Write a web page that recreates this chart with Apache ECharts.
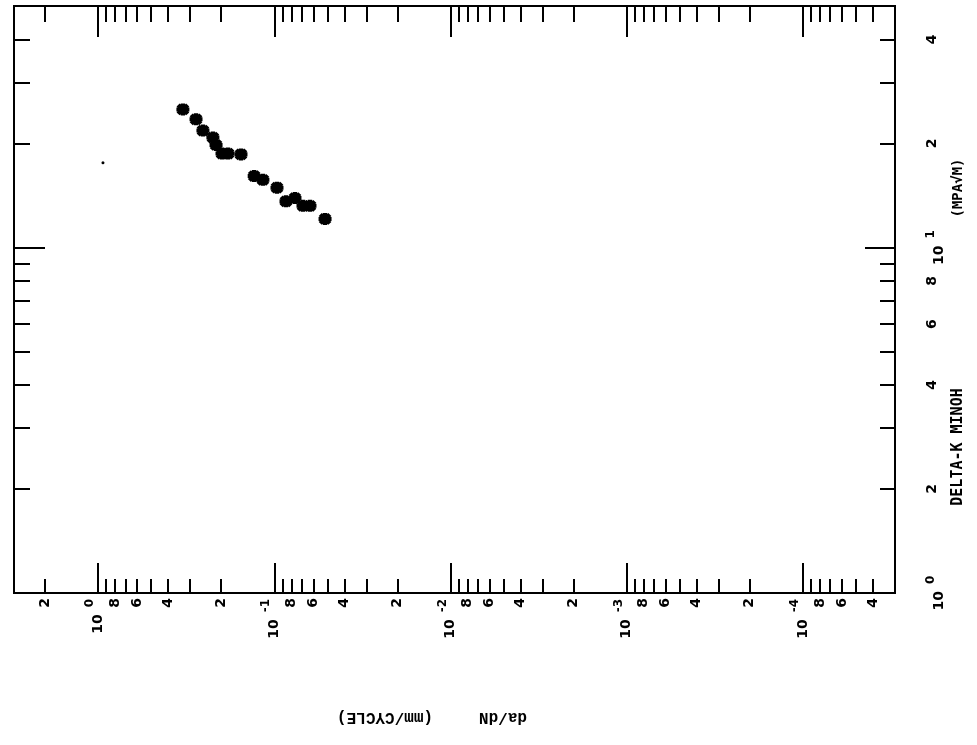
<!DOCTYPE html>
<html><head><meta charset="utf-8">
<script src="https://cdn.jsdelivr.net/npm/echarts@6/dist/echarts.min.js"></script>
<style>html,body{margin:0;padding:0;background:#fff}#c{width:977px;height:745px}</style>
</head><body><div id="c"></div>
<script>
// ---- data ----
const rateRange = [0.00003, 3];           // da/dN axis (mm/cycle), drawn reversed
const kRange = [1, 50];                   // Delta-K axis (MPa sqrt m)
const rateDecades = [1, 0.1, 0.01, 0.001, 0.0001];
const rateDecadeLabels = ['0', '-1', '-2', '-3', '-4'];
const rateMinorTicks = [2,
  0.9, 0.8, 0.7, 0.6, 0.5, 0.4, 0.3, 0.2,
  0.09, 0.08, 0.07, 0.06, 0.05, 0.04, 0.03, 0.02,
  0.009, 0.008, 0.007, 0.006, 0.005, 0.004, 0.003, 0.002,
  0.0009, 0.0008, 0.0007, 0.0006, 0.0005, 0.0004, 0.0003, 0.0002,
  0.00009, 0.00008, 0.00007, 0.00006, 0.00005, 0.00004];
const rateMinorLabelValues = [2, 0.8, 0.6, 0.4, 0.2, 0.08, 0.06, 0.04, 0.02,
  0.008, 0.006, 0.004, 0.002, 0.0008, 0.0006, 0.0004, 0.0002,
  0.00008, 0.00006, 0.00004];
const rateMinorLabels = ['2', '8', '6', '4', '2', '8', '6', '4', '2',
  '8', '6', '4', '2', '8', '6', '4', '2', '8', '6', '4'];
const kDecades = [1, 10];
const kDecadeLabels = ['0', '1'];
const kMinorTicks = [2, 3, 4, 5, 6, 7, 8, 9, 20, 30, 40];
const kMinorLabelValues = [2, 4, 6, 8, 20, 40];
const kMinorLabels = ['2', '4', '6', '8', '2', '4'];

const crackRate = [0.330, 0.278, 0.254, 0.223, 0.214, 0.198, 0.183, 0.1545,
  0.130, 0.116, 0.0965, 0.0858, 0.0763, 0.0687, 0.0627, 0.0515];
const deltaK = [25.1, 23.5, 21.8, 20.8, 19.8, 18.7, 18.7, 18.6,
  16.1, 15.7, 14.9, 13.6, 13.9, 13.2, 13.2, 12.1];
const strayRate = [0.938];
const strayK = [17.6];

// ---- build ----
const L = v => Math.log10(v);
const near = (a, b) => Math.abs(a - b) < 1e-6;
function lookup(vals, labels) {
  return function (val) {
    for (let i = 0; i < vals.length; i++) if (near(L(vals[i]), val)) return labels[i];
    return '';
  };
}
const INK = '#000';
const digitFont = { fontFamily: 'DejaVu Sans', fontWeight: 'bold', fontSize: 14, color: INK };
const richDec = {
  b: { fontFamily: 'DejaVu Sans', fontWeight: 'bold', fontSize: 14, color: INK },
  s: { fontFamily: 'DejaVu Sans', fontWeight: 'bold', fontSize: 12, color: INK, padding: [0, 0, 16, 7] }
};
const lineStyle = { color: INK, width: 2 };

function axis(kind, pos, tickVals, tickLen, labelVals, labelFn, labelOpts) {
  const range = kind === 'x' ? rateRange : kRange;
  const a = {
    type: 'value', position: pos, min: L(range[0]), max: L(range[1]),
    inverse: kind === 'x',
    splitLine: { show: false },
    axisLine: { show: true, onZero: false, lineStyle: lineStyle },
    axisTick: { show: true, inside: true, length: tickLen, lineStyle: lineStyle, customValues: tickVals.map(L) },
    axisLabel: { show: false }
  };
  if (labelVals) {
    a.axisLabel = Object.assign({ show: true, rotate: 90, customValues: labelVals.map(L), formatter: labelFn }, labelOpts);
  }
  return a;
}

const decRate = lookup(rateDecades, rateDecadeLabels);
const decK = lookup(kDecades, kDecadeLabels);
const decFmt = f => (v => '{b|10}{s|' + f(v) + '}');

const option = {
  animation: false,
  backgroundColor: '#fff',
  grid: { left: 14, right: 82, top: 6, bottom: 152 },
  xAxis: [
    axis('x', 'bottom', rateDecades, 30, rateDecades, decFmt(decRate), { margin: 6, rich: richDec }),
    axis('x', 'bottom', rateMinorTicks, 14, rateMinorLabelValues, lookup(rateMinorLabelValues, rateMinorLabels), Object.assign({ margin: 5 }, digitFont)),
    axis('x', 'top', rateDecades, 31),
    axis('x', 'top', rateMinorTicks, 16)
  ],
  yAxis: [
    axis('y', 'left', kDecades.filter(v => v > kRange[0]), 31),
    axis('y', 'left', kMinorTicks, 16),
    axis('y', 'right', kDecades.filter(v => v > kRange[0]), 30, kDecades, decFmt(decK), { margin: 30, rich: richDec }),
    axis('y', 'right', kMinorTicks, 15, kMinorLabelValues, lookup(kMinorLabelValues, kMinorLabels), Object.assign({ margin: 30 }, digitFont))
  ],
  series: [
    {
      type: 'scatter', xAxisIndex: 0, yAxisIndex: 0,
      symbol: 'path://M5 0L5 10M0 5L10 5M1.3 1.3L8.7 8.7M8.7 1.3L1.3 8.7',
      symbolSize: [13, 12],
      itemStyle: { color: 'rgba(0,0,0,0)', borderColor: INK, borderWidth: 4.2, opacity: 1 },
      data: crackRate.map((r, i) => [L(r), L(deltaK[i])])
    },
    {
      type: 'scatter', xAxisIndex: 0, yAxisIndex: 0,
      symbol: 'circle', symbolSize: 3,
      itemStyle: { color: INK, opacity: 1 },
      data: strayRate.map((r, i) => [L(r), L(strayK[i])])
    }
  ],
  graphic: [
    { type: 'text', x: 958, y: 447, rotation: Math.PI / 2,
      style: { text: 'DELTA-K MINOH', fontFamily: 'DejaVu Sans Mono', fontWeight: 'bold', fontSize: 15, fill: INK, align: 'center', verticalAlign: 'middle' } },
    { type: 'text', x: 958, y: 188, rotation: Math.PI / 2,
      style: { text: '(MPA\u221AM)', fontFamily: 'DejaVu Sans Mono', fontWeight: 'bold', fontSize: 14, fill: INK, align: 'center', verticalAlign: 'middle' } },
    { type: 'text', x: 503, y: 717, rotation: Math.PI,
      style: { text: 'da/dN', fontFamily: 'Liberation Mono', fontWeight: 'bold', fontSize: 16, fill: INK, align: 'center', verticalAlign: 'middle' } },
    { type: 'text', x: 385, y: 717, rotation: Math.PI,
      style: { text: '(mm/CYCLE)', fontFamily: 'Liberation Mono', fontWeight: 'bold', fontSize: 16, fill: INK, align: 'center', verticalAlign: 'middle' } }
  ]
};
const chart = echarts.init(document.getElementById('c'), null, { renderer: 'canvas' });
chart.setOption(option);
</script>
</body></html>
